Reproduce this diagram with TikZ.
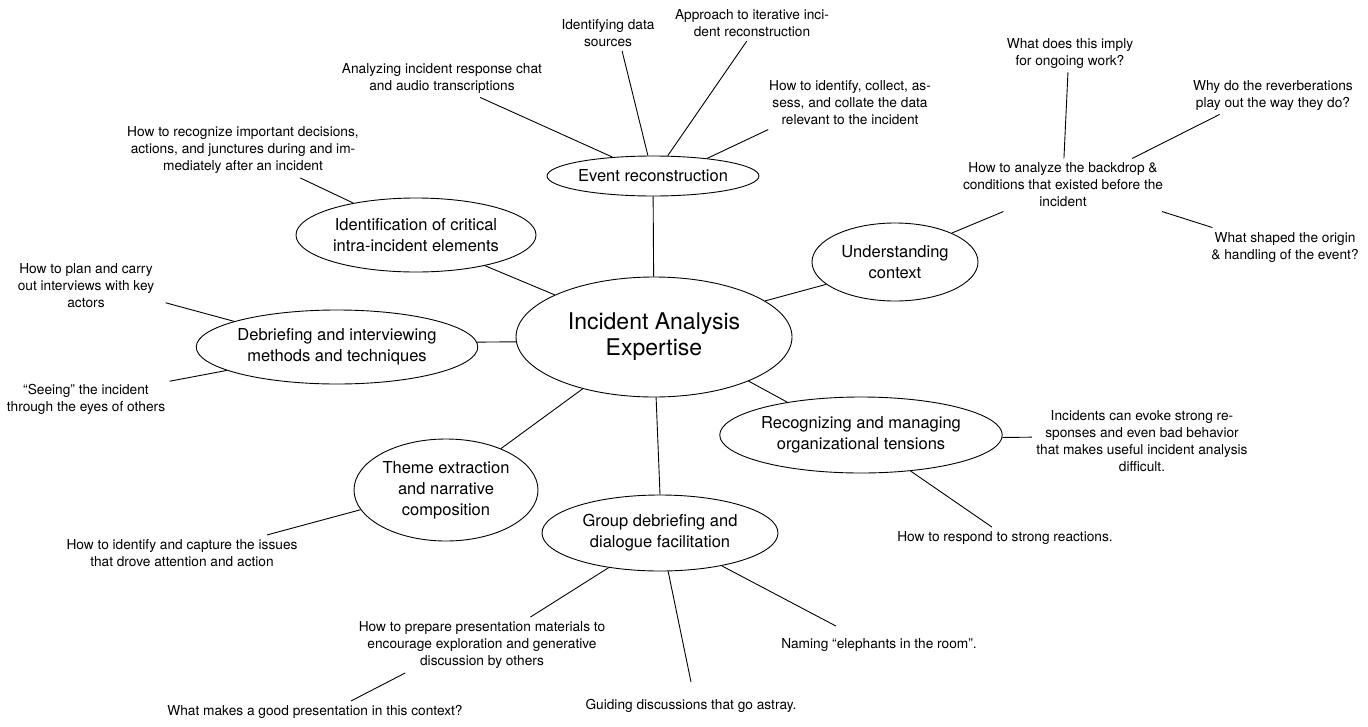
\documentclass[tikz,border=0pt]{standalone}
\usepackage{fontspec}
\setmainfont{TeX Gyre Heros}
\usetikzlibrary{shapes.geometric}
\tikzstyle{core} = [draw, ellipse, inner sep=0pt, align=center, font={\fontsize{23pt}{26pt}\selectfont}]
\tikzstyle{topic} = [draw, ellipse, inner sep=0pt, align=center, font={\fontsize{16.5pt}{21pt}\selectfont}]
\tikzstyle{note} = [align=center, inner sep=4pt, font={\fontsize{13.7pt}{17pt}\selectfont}]

\begin{document}
\begin{tikzpicture}[x=1pt, y=-1pt, line width=0.9pt]
    \useasboundingbox (0,0) rectangle (1368,726);
    \node [core, minimum width=276pt, minimum height=120pt] (iae) at (654,337) {Incident Analysis\\Expertise};
    \node [topic, minimum width=206pt, minimum height=40pt] (evt) at (653,176) {Event reconstruction};
    \node [topic, minimum width=240pt, minimum height=74pt] (ident) at (416,235) {Identification of critical\\intra-incident elements};
    \node [topic, minimum width=166pt, minimum height=78pt] (context) at (895,262) {Understanding\\context};
    \node [topic, minimum width=276pt, minimum height=74pt] (debrief) at (337,347) {Debriefing and interviewing\\methods and techniques};
    \node [topic, minimum width=270pt, minimum height=76pt] (tensions) at (861,435) {Recognizing and managing\\organizational tensions};
    \node [topic, minimum width=184pt, minimum height=102pt] (theme) at (446,490) {Theme extraction\\and narrative\\composition};
    \node [topic, minimum width=236pt, minimum height=76pt] (group) at (660,533) {Group debriefing and\\dialogue facilitation};
    % event reconstruction
    \node [note] (identsrc) at (608,33) {Identifying data\\sources};
    \node [note] (approach) at (752,23) {Approach to iterative inci-\\dent reconstruction};
    \node [note] (analyzing) at (442,78) {Analyzing incident response chat\\and audio transcriptions};
    \node [note] (howcollect) at (850,103) {How to identify, collect, as-\\sess, and collate the data\\relevant to the incident};
    % critical elements
    \node [note] (howrecognize) at (243,150) {How to recognize important decisions,\\actions, and junctures during and im-\\mediately after an incident};
    % interviewing
    \node [note] (howplan) at (86,286) {How to plan and carry\\out interviews with key\\actors};
    \node [note] (seeing) at (86,399) {“Seeing” the incident\\through the eyes of others};
    % context
    \node [note] (backdrop) at (1063,185) {How to analyze the backdrop \&\\conditions that existed before the\\incident};
    \node [note] (whatimply) at (1070,53) {What does this imply\\for ongoing work?};
    \node [note] (whyreverb) at (1273,95) {Why do the reverberations\\play out the way they do?};
    \node [note] (whatshaped) at (1285,247) {What shaped the origin\\\& handling of the event?};
    % tensions
    \node [note] (incidents) at (1142,441) {Incidents can evoke strong re-\\sponses and even bad behavior\\that makes useful incident analysis\\difficult.};
    \node [note] (howrespond) at (1005,538) {How to respond to strong reactions.};
    % theme
    \node [note] (howcapture) at (182,553) {How to identify and capture the issues\\that drove attention and action};
    % group
    \node [note] (howprepare) at (482,645) {How to prepare presentation materials to\\encourage exploration and generative\\discussion by others};
    \node [note] (whatmakes) at (315,712) {What makes a good presentation in this context?};
    \node [note] (guiding) at (691,706) {Guiding discussions that go astray.};
    \node [note] (naming) at (879,645) {Naming “elephants in the room”.};

    \draw (evt) -- (iae);
    \draw (analyzing.-27) -- (evt.155);
    \draw (identsrc.-52) -- (evt.104);
    \draw (approach.-106) -- (evt.54);
    \draw (howcollect.-162) -- (evt.18);
    \draw (howrecognize.-26) -- (ident.153);
    \draw (ident.-24) -- (iae.157);
    \draw (debrief.2) -- (iae.182);
    \draw ([xshift=7pt]howplan.-13) -- (debrief.166);
    \draw (seeing.12) -- (debrief.-168);
    \draw (context.-162) -- (iae.18);
    \draw (context.27) -- (backdrop.-156);
    \draw (backdrop.88) -- (whatimply.-96);
    \draw (backdrop.21) -- (whyreverb.-160);
    \draw (backdrop.-15) -- (whatshaped.165);
    \draw (iae.-25) -- (tensions.156);
    \draw (tensions.-1) -- (incidents.178);
    \draw (tensions.-36) -- (howrespond.140);
    \draw (iae.-144) -- (theme.37);
    \draw (theme.-167) -- (howcapture.12);
    \draw (iae.-88) -- (group.north);
    \draw (group.-146) -- (howprepare.30);
    \draw (group.-78) -- ([yshift=13pt]guiding.north);
    \draw (group.-28) -- ([xshift=-43pt, yshift=8pt]naming.north);
    \draw (howprepare.-160) -- (whatmakes.17);
\end{tikzpicture}
\end{document}
